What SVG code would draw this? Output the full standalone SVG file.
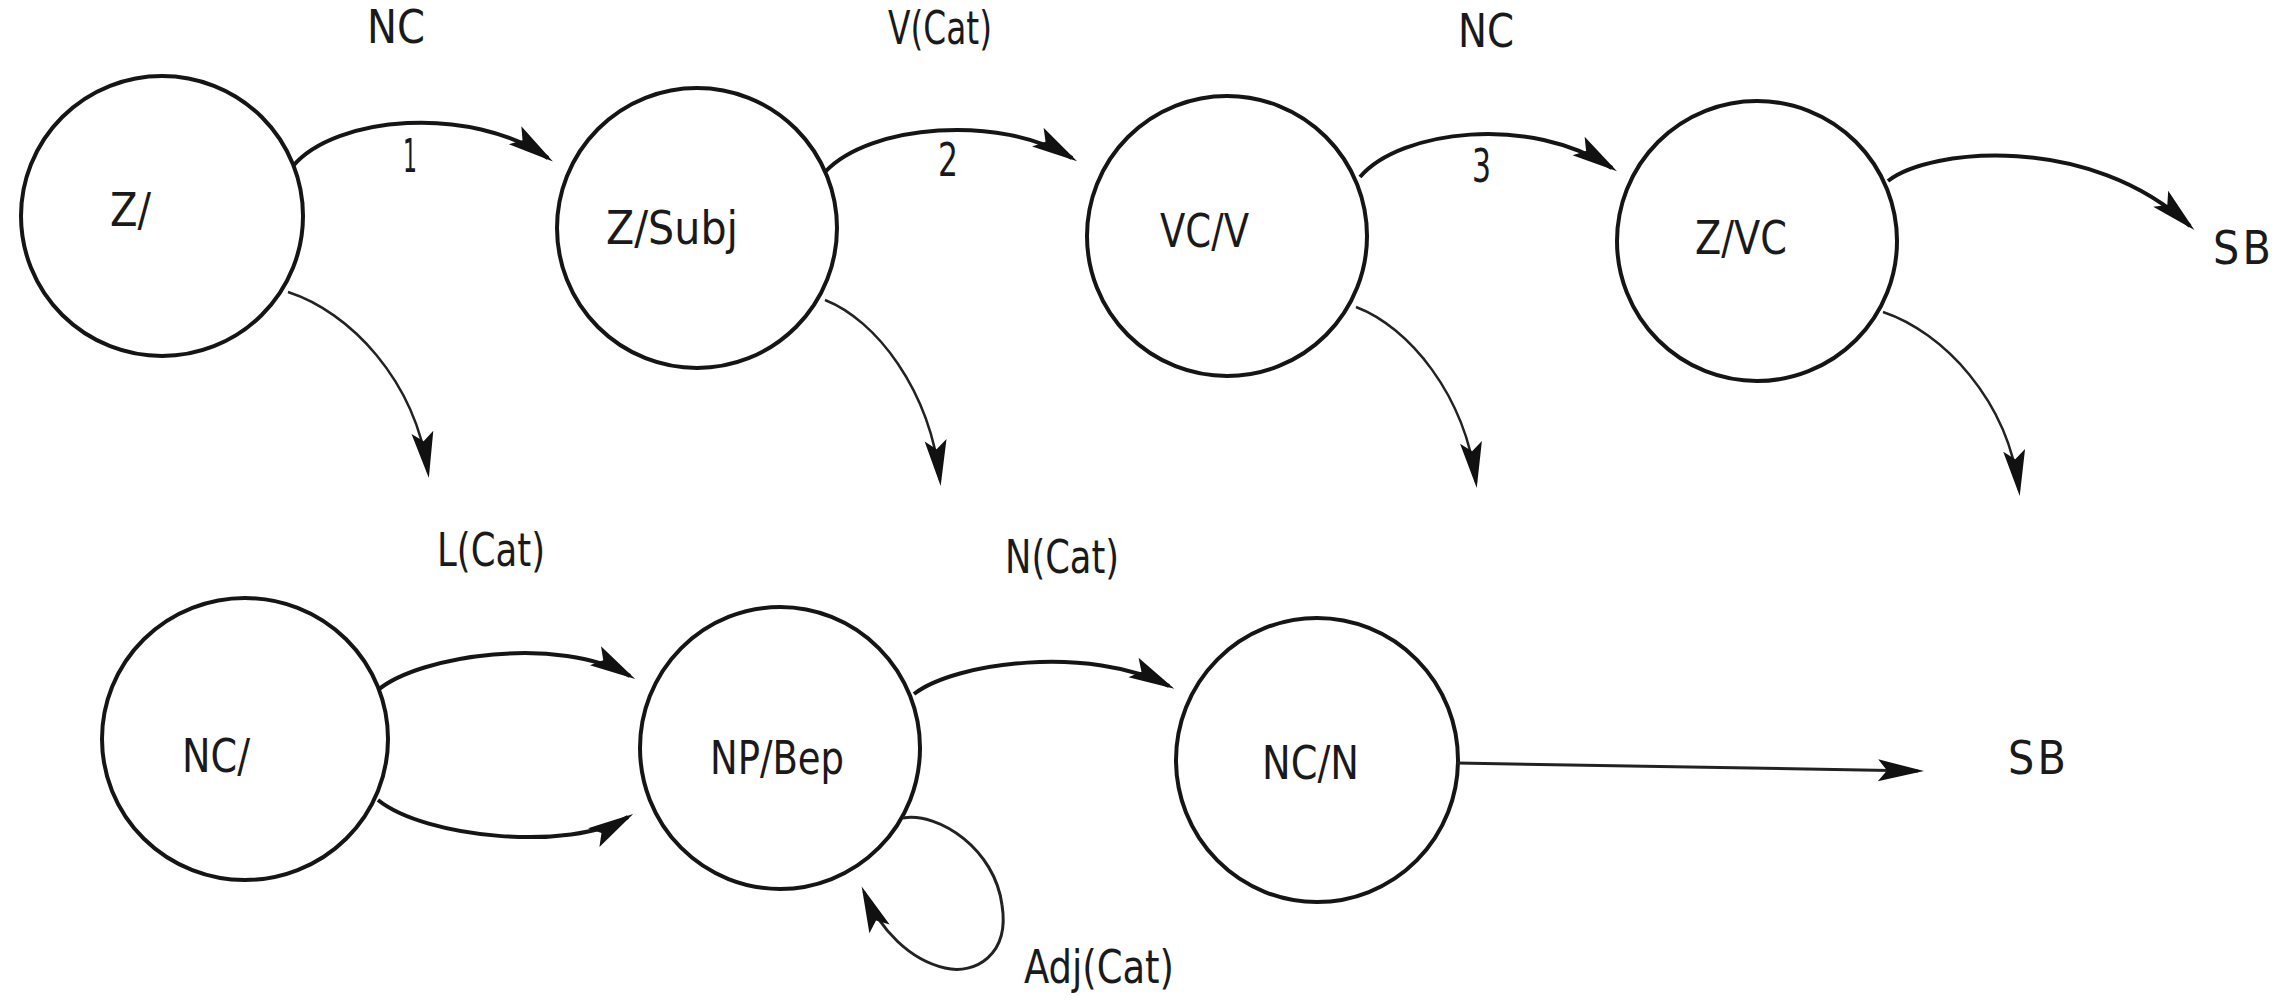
<svg xmlns="http://www.w3.org/2000/svg" width="2275" height="1002" viewBox="0 0 2275 1002">
<defs>
<marker id="ah" markerUnits="userSpaceOnUse" markerWidth="60" markerHeight="30" viewBox="-50 -15 60 30" refX="0" refY="0" orient="auto">
<path d="M6,0 L-40,-11 L-31,0 L-40,11 Z" fill="#111"/>
</marker>
</defs>
<style>
.node{fill:none;stroke:#151515;stroke-width:4}
.t{font-family:"Liberation Sans Narrow","DejaVu Sans Condensed","Liberation Sans",sans-serif;font-size:46px;fill:#1a1a1a}
.c{fill:none;stroke:#151515;stroke-width:4;marker-end:url(#ah)}
.thin{fill:none;stroke:#222;stroke-width:2.5;marker-end:url(#ah)}
.mid{fill:none;stroke:#222;stroke-width:3;marker-end:url(#ah)}
</style>
<rect width="2275" height="1002" fill="#fff"/>
<g id="n-z"><ellipse class="node" cx="162" cy="216" rx="141" ry="140"/><text class="t" x="110" y="226" textLength="41" lengthAdjust="spacingAndGlyphs">Z/</text></g>
<g id="n-zsubj"><ellipse class="node" cx="697" cy="228" rx="140" ry="140"/><text class="t" x="606" y="244" textLength="132" lengthAdjust="spacingAndGlyphs">Z/Subj</text></g>
<g id="n-vcv"><ellipse class="node" cx="1227" cy="236" rx="140" ry="140"/><text class="t" x="1160" y="247" textLength="89" lengthAdjust="spacingAndGlyphs">VC/V</text></g>
<g id="n-zvc"><ellipse class="node" cx="1757" cy="241" rx="140" ry="140"/><text class="t" x="1695" y="254" textLength="92" lengthAdjust="spacingAndGlyphs">Z/VC</text></g>
<g id="n-sb1"><text class="t" x="2213" y="264" textLength="58" lengthAdjust="spacing">SB</text></g>
<g id="n-nc"><ellipse class="node" cx="245" cy="739" rx="143" ry="141"/><text class="t" x="182" y="772" textLength="68" lengthAdjust="spacingAndGlyphs">NC/</text></g>
<g id="n-npbep"><ellipse class="node" cx="780" cy="748" rx="140" ry="141"/><text class="t" x="710" y="774" textLength="134" lengthAdjust="spacingAndGlyphs">NP/Bep</text></g>
<g id="n-ncn"><ellipse class="node" cx="1317" cy="760" rx="141" ry="142"/><text class="t" x="1262" y="779" textLength="97" lengthAdjust="spacingAndGlyphs">NC/N</text></g>
<g id="n-sb2"><text class="t" x="2008" y="774" textLength="58" lengthAdjust="spacing">SB</text></g>
<g id="connectors">
<path class="c" d="M293,166 C335,116 470,104 548,158"/>
<path class="c" d="M825,172 C870,124 1000,114 1072,158"/>
<path class="c" d="M1360,177 C1400,130 1530,114 1612,168"/>
<path class="c" d="M1888,181 C1930,148 2090,133 2190,226"/>
<path class="thin" d="M288,292 C350,312 415,380 428,472"/>
<path class="thin" d="M825,300 C876,320 930,390 940,480"/>
<path class="thin" d="M1356,307 C1409,327 1465,395 1476,482"/>
<path class="thin" d="M1883,312 C1943,332 2008,400 2019,490"/>
<path class="c" d="M378,690 C420,655 560,635 630,676"/>
<path class="c" d="M378,800 C425,838 570,852 628,817"/>
<path class="c" d="M914,694 C955,662 1090,645 1169,686"/>
<path class="mid" d="M903,818 C940,812 995,850 1002,905 C1010,955 975,975 945,968 C910,960 880,930 864,892"/>
<path class="mid" d="M1457,763 L1918,771"/>
<text class="t" x="367" y="43" textLength="58" lengthAdjust="spacingAndGlyphs">NC</text>
<text class="t" x="403" y="172" textLength="14" lengthAdjust="spacingAndGlyphs">1</text>
<text class="t" x="938" y="176" textLength="20" lengthAdjust="spacingAndGlyphs">2</text>
<text class="t" x="888" y="44" textLength="104" lengthAdjust="spacingAndGlyphs">V(Cat)</text>
<text class="t" x="1458" y="47" textLength="56" lengthAdjust="spacingAndGlyphs">NC</text>
<text class="t" x="1472" y="182" textLength="19" lengthAdjust="spacingAndGlyphs">3</text>
<text class="t" x="437" y="566" textLength="108" lengthAdjust="spacingAndGlyphs">L(Cat)</text>
<text class="t" x="1005" y="573" textLength="114" lengthAdjust="spacingAndGlyphs">N(Cat)</text>
<text class="t" x="1024" y="983" textLength="150" lengthAdjust="spacingAndGlyphs">Adj(Cat)</text>
</g>
</svg>
